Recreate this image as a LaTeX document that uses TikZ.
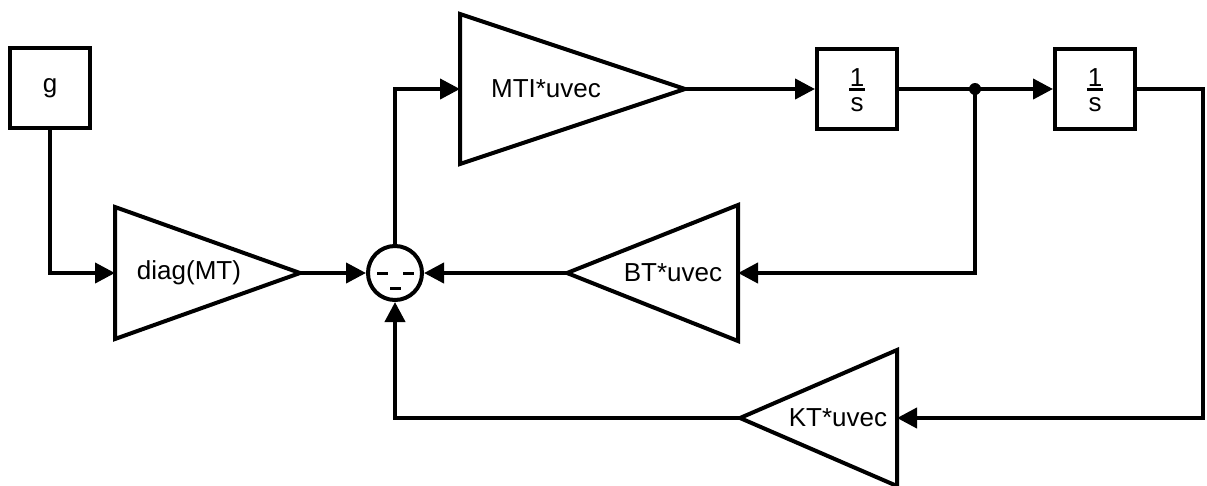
\documentclass[tikz,border=0pt]{standalone}
\usepackage{fontspec}
\setmainfont{Liberation Sans}
\usetikzlibrary{arrows.meta}
\begin{document}
\begin{tikzpicture}[x=1pt,y=-1pt,
  ln/.style={line width=4pt},
  con/.style={ln,-{Triangle[length=20pt,width=20pt]}},
  blockbox/.style={draw,ln,minimum width=80pt,minimum height=80pt,inner sep=0pt,font=\fontsize{26}{30}\selectfont},
  lbl/.style={inner sep=0pt,font=\fontsize{26}{30}\selectfont},
  gain/.style={draw,ln,line join=miter,fill=white}]
\useasboundingbox (0,0) rectangle (1207,485);
% source block
\node[blockbox] (g) at (50,88) {g};
% diag(MT) gain
\coordinate (diagin) at (115,273);
\coordinate (diagout) at (300,273);
\draw[gain] (115,207) -- (diagout) -- (115,339) -- cycle;
\node[lbl] (diaglbl) at (189,273) {diag(MT)};
% sum
\node[draw,ln,circle,minimum size=54pt,inner sep=0pt] (sum) at (395,273) {};
\draw[line width=3pt] (377,273) -- (388,273) (403,273) -- (414,273) (390,288) -- (401,288);
% MTI gain
\coordinate (mtiin) at (460,89);
\coordinate (mtiout) at (685,89);
\draw[gain] (460,14) -- (mtiout) -- (460,164) -- cycle;
\node[lbl] (mtilbl) at (546,89) {MTI*uvec};
% integrators
\node[blockbox] (int1) at (857,89) {};
\node[blockbox] (int2) at (1095,89) {};
\foreach \b in {int1,int2}{
  \node[lbl,anchor=south] (\b one) at ([yshift=2pt]\b.center) {1};
  \draw[line width=3pt] ([xshift=-8pt]\b.center) -- ([xshift=8pt]\b.center);
  \node[lbl,anchor=north] (\b s) at ([yshift=-8pt]\b.center) {s};
}
\coordinate (junc) at (975,89);
% BT gain
\coordinate (btin) at (738,273);
\coordinate (btout) at (567,273);
\draw[gain] (738,205) -- (btout) -- (738,341) -- cycle;
\node[lbl] (btlbl) at (673,273) {BT*uvec};
% KT gain
\coordinate (ktin) at (897,418);
\coordinate (ktout) at (740,418);
\draw[gain] (897,350) -- (ktout) -- (897,486) -- cycle;
\node[lbl] (ktlbl) at (838,418) {KT*uvec};
\coordinate (rcorner) at (1203,89);
% connectors
\draw[con] (g.south) |- (diagin);
\draw[con] (diagout) -- (sum.west);
\draw[con] (sum.north) |- (mtiin);
\draw[con] (mtiout) -- (int1.west);
\draw[con] (int1.east) -- (int2.west);
\fill (junc) circle (6pt);
\draw[con] (junc) |- (btin);
\draw[con] (btout) -- (sum.east);
\draw[con] (int2.east) -- (rcorner) |- (ktin);
\draw[con] (ktout) -| (sum.south);
\end{tikzpicture}
\end{document}
